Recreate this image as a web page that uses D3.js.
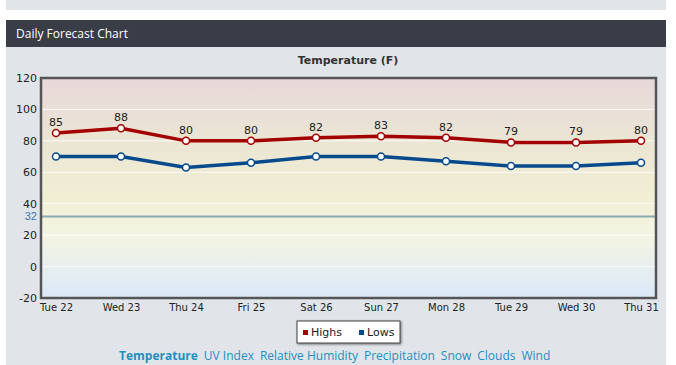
<!DOCTYPE html>
<html>
<head>
<meta charset="utf-8">
<script src="https://cdn.jsdelivr.net/npm/d3@7"></script>
<style>
  body { margin: 0; background: #fff; font-family: "DejaVu Sans", Verdana, sans-serif; }
  #container { position: relative; width: 676px; height: 365px; overflow: hidden; }
</style>
</head>
<body>
<div id="container"></div>
<script>
// chart data
var days = ["Tue 22", "Wed 23", "Thu 24", "Fri 25", "Sat 26", "Sun 27", "Mon 28", "Tue 29", "Wed 30", "Thu 31"];
var highs = [85, 88, 80, 80, 82, 83, 82, 79, 79, 80];
var lows = [70, 70, 63, 66, 70, 70, 67, 64, 64, 66];
var yTicks = [120, 100, 80, 60, 40, 20, 0, -20];
var freezing = 32;
var links = ["Temperature", "UV Index", "Relative Humidity", "Precipitation", "Snow", "Clouds", "Wind"];

var W = 676, H = 365;
var plot = {left: 41, top: 78, right: 656, bottom: 298};

var svg = d3.select("#container").append("svg")
	.attr("width", W)
	.attr("height", H);

var defs = svg.append("defs");
var grad = defs.append("linearGradient")
	.attr("id", "bg").attr("x1", 0).attr("y1", 0).attr("x2", 0).attr("y2", 1);
grad.append("stop").attr("offset", "0%").attr("stop-color", "#e8d8da");
grad.append("stop").attr("offset", "30%").attr("stop-color", "#ebe6d4");
grad.append("stop").attr("offset", "55%").attr("stop-color", "#f1efd4");
grad.append("stop").attr("offset", "72%").attr("stop-color", "#f4f4e4");
grad.append("stop").attr("offset", "100%").attr("stop-color", "#dae9f8");

var shadow = defs.append("filter").attr("id", "shadow")
	.attr("x", "-10%").attr("y", "-20%").attr("width", "130%").attr("height", "160%");
shadow.append("feDropShadow").attr("dx", 1).attr("dy", 1).attr("stdDeviation", 1)
	.attr("flood-color", "#000").attr("flood-opacity", 0.5);

// page boxes
svg.append("rect").attr("x", 6).attr("y", 0).attr("width", 660).attr("height", 10).attr("fill", "#e1e5ea");
svg.append("rect").attr("x", 6).attr("y", 20).attr("width", 660).attr("height", 27).attr("fill", "#383d48");
svg.append("rect").attr("x", 6).attr("y", 47).attr("width", 660).attr("height", 320).attr("fill", "#e1e5ea");
svg.append("text")
	.attr("x", 16).attr("y", 38)
	.attr("fill", "#fff")
	.style("font-family", "'Open Sans', sans-serif")
	.style("font-size", "12px")
	.text("Daily Forecast Chart");

svg.append("text")
	.attr("x", 348).attr("y", 64)
	.attr("text-anchor", "middle")
	.attr("fill", "#333")
	.style("font-size", "11px")
	.style("font-weight", "bold")
	.text("Temperature (F)");

// scales
var x = d3.scalePoint().domain(days).range([plot.left + 15, plot.right - 15]);
var y = d3.scaleLinear().domain([-20, 120]).range([plot.bottom, plot.top]);

var g = svg.append("g");

g.append("rect")
	.attr("x", plot.left).attr("y", plot.top)
	.attr("width", plot.right - plot.left).attr("height", plot.bottom - plot.top)
	.attr("fill", "url(#bg)");

// grid lines
g.selectAll(".grid")
	.data(yTicks.filter(function(d) { return d > -20 && d < 120; }))
	.enter().append("line")
		.attr("class", "grid")
		.attr("x1", plot.left).attr("x2", plot.right)
		.attr("y1", function(d) { return y(d); })
		.attr("y2", function(d) { return y(d); })
		.attr("stroke", "#fff").attr("stroke-opacity", 0.8).attr("stroke-width", 1);

// freezing line
g.append("line")
	.attr("x1", plot.left).attr("x2", plot.right)
	.attr("y1", Math.round(y(freezing)) + 0.5).attr("y2", Math.round(y(freezing)) + 0.5)
	.attr("stroke", "#8aa9b0").attr("stroke-width", 2);

// axes
var yAxis = d3.axisLeft(y).tickValues(yTicks).tickFormat(String).tickSize(0).tickPadding(4);
var yg = g.append("g")
	.attr("transform", "translate(" + plot.left + ",0)")
	.call(yAxis);
yg.select(".domain").remove();
yg.selectAll("text").style("font-size", "11px").attr("fill", "#222")
	.style("font-family", "'DejaVu Sans', Verdana, sans-serif");
yg.append("text")
	.attr("x", -4).attr("y", y(freezing)).attr("dy", "0.32em")
	.attr("text-anchor", "end")
	.attr("fill", "#3a78a8")
	.style("font-size", "11px")
	.text(freezing);

var xAxis = d3.axisBottom(x).tickSize(0).tickPadding(6);
var xg = g.append("g")
	.attr("transform", "translate(0," + plot.bottom + ")")
	.call(xAxis);
xg.select(".domain").remove();
xg.selectAll("text").style("font-size", "10px").attr("fill", "#222")
	.style("font-family", "'DejaVu Sans', Verdana, sans-serif");

// frame
g.append("rect")
	.attr("x", plot.left).attr("y", plot.top)
	.attr("width", plot.right - plot.left).attr("height", plot.bottom - plot.top)
	.attr("fill", "none").attr("stroke", "#555").attr("stroke-width", 2.5);

// series
var series = [
	{name: "Highs", values: highs, color: "#a30000", labels: true},
	{name: "Lows", values: lows, color: "#064a8c", labels: false}
];

var line = d3.line()
	.x(function(d, i) { return x(days[i]); })
	.y(function(d) { return y(d); });

series.forEach(function(s) {
	g.append("path")
		.datum(s.values)
		.attr("d", line)
		.attr("fill", "none")
		.attr("stroke", s.color)
		.attr("stroke-width", 3.5);

	g.selectAll(".dot-" + s.name)
		.data(s.values).enter()
		.append("circle")
			.attr("cx", function(d, i) { return x(days[i]); })
			.attr("cy", function(d) { return y(d); })
			.attr("r", 3.5)
			.attr("fill", "#fff")
			.attr("stroke", s.color)
			.attr("stroke-width", 1.5);

	if (s.labels) {
		g.selectAll(".lbl-" + s.name)
			.data(s.values).enter()
			.append("text")
				.attr("x", function(d, i) { return x(days[i]); })
				.attr("y", function(d) { return y(d) - 7; })
				.attr("text-anchor", "middle")
				.attr("fill", "#222")
				.style("font-size", "11px")
				.text(function(d) { return d; });
	}
});

// legend
var legend = svg.append("g").attr("transform", "translate(297,321)");
legend.append("rect")
	.attr("width", 103).attr("height", 22)
	.attr("fill", "#fff").attr("stroke", "#444").attr("stroke-width", 1)
	.attr("filter", "url(#shadow)");
var items = legend.selectAll(".legend")
	.data(series).enter()
	.append("g")
		.attr("class", "legend")
		.attr("transform", function(d, i) { return "translate(" + (6 + i * 56) + ",0)"; });
items.append("rect")
	.attr("x", 0).attr("y", 9).attr("width", 5).attr("height", 5)
	.attr("fill", function(d) { return d.color; });
items.append("text")
	.attr("x", 8).attr("y", 15)
	.attr("fill", "#222")
	.style("font-size", "11px")
	.text(function(d) { return d.name; });

// links along the bottom
var linkText = svg.append("text")
	.attr("x", 119).attr("y", 360)
	.style("font-size", "12px")
	.attr("fill", "#1d8fc0");
linkText.selectAll("tspan")
	.data(links).enter()
	.append("tspan")
		.attr("dx", function(d, i) { return i ? 6 : 0; })
		.style("font-weight", function(d, i) { return i ? "normal" : "bold"; })
		.style("font-family", "'Open Sans', sans-serif")
		.text(function(d) { return d; });
</script>
</body>
</html>
